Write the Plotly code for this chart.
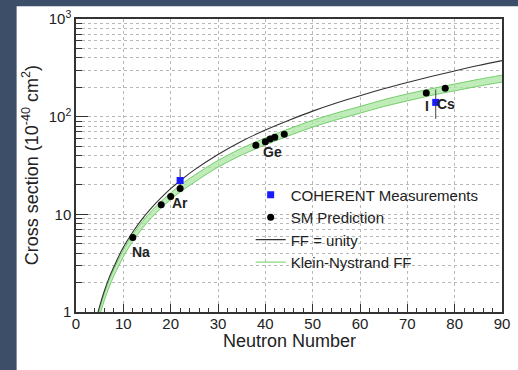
import numpy as np
import plotly.graph_objects as go

# ---- data ----
curve_n = [4.5, 5, 6, 7, 8, 9, 10, 12, 14, 16, 18, 20, 22, 25, 30, 35, 40, 45, 50, 55, 60, 65, 70, 75, 80, 85, 90]
ff_unity = [0.93, 1.15, 1.65, 2.25, 2.9, 3.7, 4.6, 6.6, 9.0, 11.7, 14.8, 18.3, 22.1, 28.5, 41, 56, 73, 92, 114, 138, 164, 193, 224, 258, 294, 334, 375]
kn_low = [0.74, 0.92, 1.32, 1.80, 2.35, 2.94, 3.68, 5.29, 7.18, 9.29, 11.6, 14.2, 16.9, 21.3, 30.4, 40.5, 51.5, 63.9, 78.2, 92.9, 108.6, 127, 145, 165, 184, 205, 226]
kn_high = [0.86, 1.08, 1.56, 2.12, 2.75, 3.46, 4.32, 6.21, 8.42, 10.9, 13.6, 16.6, 19.9, 25.1, 35.6, 47.5, 60.5, 75.1, 91.8, 109, 127, 149, 171, 193, 216, 241, 266]

sm_n = [12, 18, 20, 22, 38, 40, 41, 42, 44, 74, 78]
sm_xs = [5.8, 12.5, 15.2, 18.4, 51, 55.5, 58.9, 61.5, 66, 175, 195]

meas_n = [22, 76]
meas_xs = [22.2, 140]
meas_err_hi = [7.1, 50]
meas_err_lo = [4.0, 45]

labels = ["Na", "Ar", "Ge", "I", "Cs"]
label_n = [13.7, 21.9, 41.6, 74.2, 78.2]
label_xs = [4.16, 13.2, 43.3, 128, 136]

x_ticks = [0, 10, 20, 30, 40, 50, 60, 70, 80, 90]
y_ticks = [1, 10, 100, 1000]
y_ticktext = ["1", "10", "10<sup>2</sup>", "10<sup>3</sup>"]

FONT = "Liberation Sans, Arial, sans-serif"
TXT = "#222222"

fig = go.Figure()

# Klein-Nystrand band
fig.add_trace(go.Scatter(x=curve_n, y=kn_low, mode="lines", line=dict(color="#74cf6c", width=1, shape="spline"),
                         showlegend=False, hoverinfo="skip"))
fig.add_trace(go.Scatter(x=curve_n, y=kn_high, mode="lines", line=dict(color="#74cf6c", width=1, shape="spline"),
                         fill="tonexty", fillcolor="rgba(170,230,160,0.75)", showlegend=False, hoverinfo="skip"))
# FF = unity
fig.add_trace(go.Scatter(x=curve_n, y=ff_unity, mode="lines", line=dict(color="#333333", width=1.1, shape="spline"),
                         showlegend=False))

# measurements
fig.add_trace(go.Scatter(x=meas_n, y=meas_xs, mode="markers", name="COHERENT Measurements",
                         marker=dict(symbol="square", size=7, color="#1a1aff"),
                         error_y=dict(type="data", symmetric=False, array=meas_err_hi, arrayminus=meas_err_lo,
                                      color="#444444", thickness=1, width=0)))
# SM prediction
fig.add_trace(go.Scatter(x=sm_n, y=sm_xs, mode="markers", name="SM Prediction",
                         marker=dict(symbol="circle", size=7, color="black")))
# legend-only entries for lines
fig.add_trace(go.Scatter(x=[None], y=[None], mode="lines", name="FF = unity",
                         line=dict(color="#333333", width=1.1)))
fig.add_trace(go.Scatter(x=[None], y=[None], mode="lines", name="Klein-Nystrand FF",
                         line=dict(color="#8ad982", width=1.2)))

for t, xn, yv in zip(labels, label_n, label_xs):
    fig.add_annotation(x=xn, y=np.log10(yv), text="<b>%s</b>" % t, showarrow=False,
                       font=dict(family=FONT, size=14, color=TXT), xanchor="center", yanchor="middle")

# axis titles
fig.add_annotation(xref="paper", yref="paper", x=-0.106, y=0.5, text="Cross section (10<sup>-40</sup> cm<sup>2</sup>)",
                   textangle=-90, showarrow=False, font=dict(family=FONT, size=18, color=TXT),
                   xanchor="center", yanchor="middle")
fig.add_annotation(xref="paper", yref="paper", x=0.5, y=-0.1, text="Neutron Number",
                   showarrow=False, font=dict(family=FONT, size=18, color=TXT),
                   xanchor="center", yanchor="middle")

# dark page edges
dark = "#3d4e69"
fig.add_shape(type="rect", xref="paper", yref="paper", x0=-0.2, x1=(15.5 - 76) / 434, y0=-0.3, y1=1.2,
              fillcolor=dark, line=dict(width=0), layer="above")
fig.add_shape(type="rect", xref="paper", yref="paper", x0=-0.2, x1=1.1, y0=(312 - 3) / 296, y1=1.2,
              fillcolor=dark, line=dict(width=0), layer="above")

grid_col = "#b8b8b8"
fig.update_xaxes(range=[0, 90], tickvals=x_ticks, ticks="inside", ticklen=8, tickwidth=1, tickcolor="#333",
                 showline=True, linecolor="#333", linewidth=1.5, mirror=True,
                 showgrid=True, gridcolor=grid_col, griddash="dot", gridwidth=1,
                 minor=dict(dtick=2, ticks="inside", ticklen=4, tickcolor="#333", showgrid=False),
                 tickfont=dict(family=FONT, size=15, color=TXT), zeroline=False,
                 ticklabeloverflow="allow", ticklabelstandoff=-3)
fig.update_yaxes(type="log", range=[0, 3], tickvals=y_ticks, ticktext=y_ticktext, ticks="inside", ticklen=12,
                 tickwidth=1, tickcolor="#333",
                 showline=True, linecolor="#333", linewidth=1.5, mirror=True,
                 showgrid=True, gridcolor=grid_col, griddash="dot", gridwidth=1,
                 minor=dict(dtick="D1", ticks="inside", ticklen=6, tickcolor="#333", showgrid=True,
                            gridcolor=grid_col, griddash="dot", gridwidth=1),
                 tickfont=dict(family=FONT, size=15, color=TXT), zeroline=False,
                 ticklabeloverflow="allow")

fig.update_layout(width=518, height=370, margin=dict(l=76, r=8, t=16, b=58),
                  paper_bgcolor="white", plot_bgcolor="white",
                  font=dict(family=FONT, color=TXT),
                  legend=dict(x=0.41, y=0.456, xanchor="left", yanchor="top", bgcolor="rgba(0,0,0,0)",
                              font=dict(family=FONT, size=15, color=TXT), tracegroupgap=3,
                              traceorder="normal"),
                  showlegend=True)

fig.write_html("out.html")
